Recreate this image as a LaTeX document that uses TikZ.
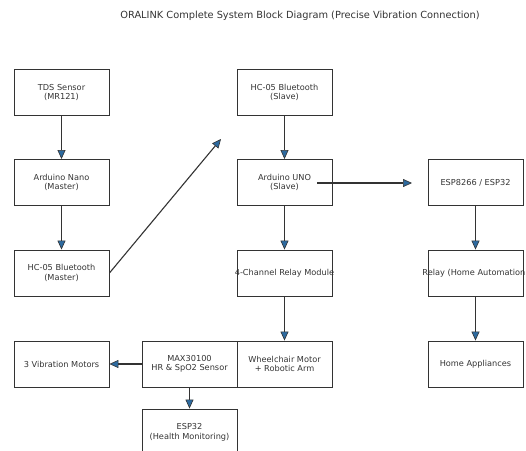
\documentclass[tikz,border=0pt]{standalone}
\usepackage{fontspec}
\setmainfont{DejaVu Sans}
\usetikzlibrary{arrows.meta}
\definecolor{ink}{HTML}{333333}
\definecolor{tipblue}{HTML}{2D6A9F}
\newcommand{\wide}[1]{\makebox[0pt][c]{#1}}
\begin{document}
\begin{tikzpicture}[x=1pt,y=-1pt,
  blk/.style={draw=ink,line width=0.9pt,minimum width=95pt,minimum height=46pt,inner sep=0pt,align=center,font=\fontsize{8.2}{9.6}\selectfont,text=ink},
  conn/.style={draw=ink,line width=1.1pt,-{Triangle[length=9pt,width=8pt,fill=tipblue,line width=0.6pt]}}]
\useasboundingbox (0,0) rectangle (526,450);
\clip (0,0) rectangle (526,450);
\node[font=\fontsize{9.8}{11}\selectfont,text=ink] (title) at (300,16) {ORALINK Complete System Block Diagram (Precise Vibration Connection)};
\node[blk] (tds) at (61.5,92.5) {TDS Sensor\\(MR121)};
\node[blk] (nano) at (61.5,182.5) {Arduino Nano\\(Master)};
\node[blk] (hcm) at (61.5,273) {HC-05 Bluetooth\\(Master)};
\node[blk] (hcs) at (284.5,92.5) {HC-05 Bluetooth\\(Slave)};
\node[blk] (uno) at (284.5,182.5) {Arduino UNO\\(Slave)};
\node[blk] (relay4) at (284.5,273) {\wide{4-Channel Relay Module}};
\node[blk] (wheel) at (284.5,364) {Wheelchair Motor\\+ Robotic Arm};
\node[blk] (max) at (189.5,364) {MAX30100\\HR \& SpO2 Sensor};
\node[blk] (vib) at (61.5,364) {3 Vibration Motors};
\node[blk] (esp32) at (189.5,432) {ESP32\\(Health Monitoring)};
\node[blk] (esp8266) at (475.5,182.5) {ESP8266 / ESP32};
\node[blk] (relayh) at (475.5,273) {\wide{Relay (Home Automation)}};
\node[blk] (home) at (475.5,364) {Home Appliances};
\coordinate (btend) at (221,139);
\coordinate (unoout) at (317,183);
\coordinate (espin) at (412,183);
\draw[conn] (tds) -- (nano);
\draw[conn] (nano) -- (hcm);
\draw[conn] (hcm.east) -- (btend);
\draw[conn] (hcs) -- (uno);
\draw[conn] (unoout) -- (espin);
\draw[conn] (uno) -- (relay4);
\draw[conn] (relay4) -- (wheel);
\draw[conn] (max) -- (vib);
\draw[conn] (max) -- (esp32);
\draw[conn] (esp8266) -- (relayh);
\draw[conn] (relayh) -- (home);
\end{tikzpicture}
\end{document}
